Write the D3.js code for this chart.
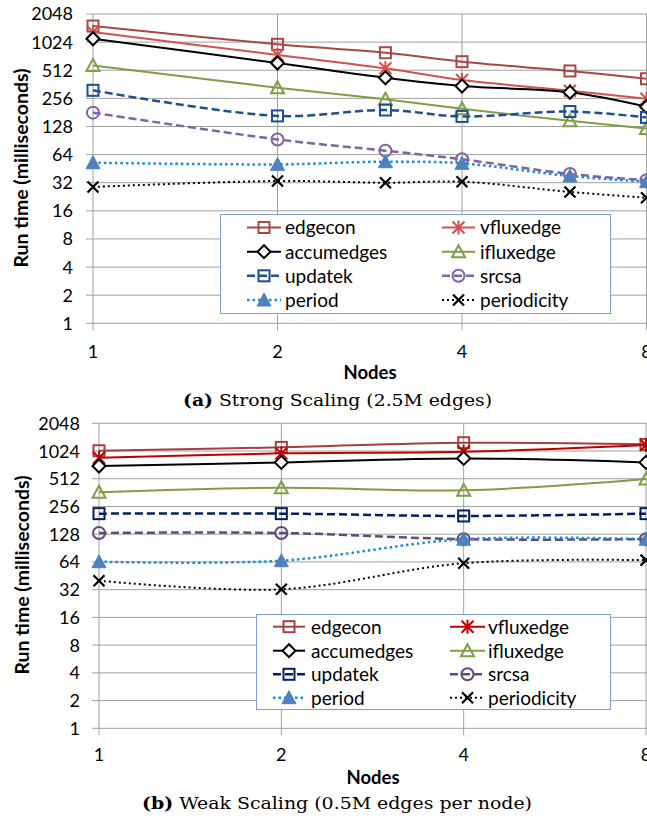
<!DOCTYPE html>
<html><head><meta charset="utf-8">
<script src="https://cdn.jsdelivr.net/npm/d3@7"></script>
<style>body{margin:0;background:#fff}svg{display:block}</style>
</head><body>
<svg id="c" width="647" height="819"></svg>
<script>
// ---------- data ----------
const seriesNames = ["edgecon","vfluxedge","accumedges","ifluxedge","updatek","srcsa","period","periodicity"];
const yTickValues = [1,2,4,8,16,32,64,128,256,512,1024,2048];
const xTickValues = [1,2,4,8];

// (a) Strong scaling
const strongNodes = [1,2,3,4,6,8];
const strongEdgecon     = [1522, 970, 788, 632, 503, 415];
const strongVfluxedge   = [1314, 745, 537, 402, 309, 254];
const strongAccumedges  = [1113, 612, 425, 347, 297, 208];
const strongIfluxedge   = [577, 333, 250, 198, 147, 122];
const strongUpdatek     = [312, 166, 192, 164, 185, 160];
const strongSrcsa       = [180, 93, 70.5, 57, 39.7, 34];
const strongPeriod      = [52.4, 50.3, 53.7, 51.6, 37.7, 32.8];
const strongPeriodicity = [28.8, 33.4, 32, 32.8, 25.5, 22.1];

// (b) Weak scaling
const weakNodes = [1,2,4,8];
const weakEdgecon     = [1031, 1122, 1260, 1210];
const weakVfluxedge   = [866, 966, 1005, 1191];
const weakAccumedges  = [704, 771, 852, 771];
const weakIfluxedge   = [365, 409, 383, 509];
const weakUpdatek     = [214, 214, 202, 214];
const weakSrcsa       = [132, 132, 113, 113];
const weakPeriod      = [64.4, 66, 113, 113];
const weakPeriodicity = [40, 32.3, 62, 67];

// ---------- styles ----------
const stylesA = {
  edgecon:    {color:"#A94744", w:2,   dash:null,    marker:"square"},
  vfluxedge:  {color:"#CF5350", w:2,   dash:null,    marker:"star"},
  accumedges: {color:"#000000", w:2,   dash:null,    marker:"diamond"},
  ifluxedge:  {color:"#7F9E45", w:2,   dash:null,    marker:"triangle"},
  updatek:    {color:"#1F4E8C", w:2.5, dash:"8,4",   marker:"square"},
  srcsa:      {color:"#8064A2", w:2.5, dash:"8,4",   marker:"circle"},
  period:     {color:"#1A8CD8", w:2.5, dash:"2.5,3", marker:"filltri", fill:"#4F81BD"},
  periodicity:{color:"#000000", w:2,   dash:"2,3",   marker:"x"}
};
const stylesB = Object.assign({}, stylesA, {
  edgecon:   {color:"#A5403D", w:2,   dash:null,  marker:"square"},
  vfluxedge: {color:"#C00000", w:2,   dash:null,  marker:"star"},
  updatek:   {color:"#002060", w:2.5, dash:"8,4", marker:"square"},
  srcsa:     {color:"#604A7B", w:2.5, dash:"8,4", marker:"circle"}
});

const panels = [
  {nodes:strongNodes, values:[strongEdgecon,strongVfluxedge,strongAccumedges,strongIfluxedge,strongUpdatek,strongSrcsa,strongPeriod,strongPeriodicity],
   styles:stylesA, x0:93, x1:646.5, yb:323.3, yt:14, tickEnd:73, xLabY:352, nodesPos:[370,372], yTitle:[21,168],
   caption:{bold:"(a)", rest:" Strong Scaling (2.5M edges)", x:183, y:406, len:309},
   legend:{x:220,y:214,w:390,h:99, c1:[247,281,285], c2:[442,475,480], rows:[227.5,251.7,275.8,300]}},
  {nodes:weakNodes, values:[weakEdgecon,weakVfluxedge,weakAccumedges,weakIfluxedge,weakUpdatek,weakSrcsa,weakPeriod,weakPeriodicity],
   styles:stylesB, x0:99, x1:646, yb:728.3, yt:423.3, tickEnd:80, xLabY:755, nodesPos:[373,777], yTitle:[22,575],
   caption:{bold:"(b)", rest:" Weak Scaling (0.5M edges per node)", x:142, y:809, len:390},
   legend:{x:256,y:614,w:354,h:95, c1:[273,305,311], c2:[450,485,488], rows:[626.7,650.7,674.3,697.7]}}
];

const svg = d3.select("#c");
const FONT = "Lato, 'Open Sans', sans-serif";
const GRID = "#A0A0A0";

function drawMarker(g, type, cx, cy, st){
  const s = 6;
  if(type==="square"){
    g.append("rect").attr("x",cx-s+0.5).attr("y",cy-s+0.5).attr("width",2*s-1).attr("height",2*s-1)
      .attr("fill","none").attr("stroke",st.color).attr("stroke-width",2);
  } else if(type==="diamond"){
    g.append("path").attr("d",`M${cx},${cy-6.5}L${cx+6.5},${cy}L${cx},${cy+6.5}L${cx-6.5},${cy}Z`)
      .attr("fill","#fff").attr("stroke",st.color).attr("stroke-width",2);
  } else if(type==="triangle"){
    g.append("path").attr("d",`M${cx},${cy-6.5}L${cx+6.5},${cy+5.5}L${cx-6.5},${cy+5.5}Z`)
      .attr("fill","none").attr("stroke",st.color).attr("stroke-width",2);
  } else if(type==="filltri"){
    g.append("path").attr("d",`M${cx},${cy-7}L${cx+7},${cy+6}L${cx-7},${cy+6}Z`)
      .attr("fill",st.fill).attr("stroke",st.fill).attr("stroke-width",1);
  } else if(type==="circle"){
    g.append("circle").attr("cx",cx).attr("cy",cy).attr("r",6)
      .attr("fill","none").attr("stroke",st.color).attr("stroke-width",2);
  } else if(type==="star"){
    const r=6;
    g.append("path").attr("d",`M${cx-r},${cy-r}L${cx+r},${cy+r}M${cx-r},${cy+r}L${cx+r},${cy-r}M${cx},${cy-r-1}L${cx},${cy+r+1}`)
      .attr("stroke",st.color).attr("stroke-width",2).attr("fill","none");
  } else if(type==="x"){
    const r=5.5;
    g.append("path").attr("d",`M${cx-r},${cy-r}L${cx+r},${cy+r}M${cx-r},${cy+r}L${cx+r},${cy-r}`)
      .attr("stroke",st.color).attr("stroke-width",2.2).attr("fill","none");
  }
}

panels.forEach(p=>{
  const x = d3.scaleLog().base(2).domain([1,8]).range([p.x0,p.x1]);
  const y = d3.scaleLog().base(2).domain([1,2048]).range([p.yb,p.yt]);
  const g = svg.append("g");

  // horizontal gridlines + ticks
  g.selectAll(null).data(yTickValues).join("line")
    .attr("x1",p.x0-7).attr("x2",647).attr("y1",d=>y(d)).attr("y2",d=>y(d))
    .attr("stroke",GRID).attr("stroke-width",1);
  // vertical gridlines + ticks
  g.selectAll(null).data(xTickValues).join("line")
    .attr("x1",d=>x(d)).attr("x2",d=>x(d)).attr("y1",p.yt).attr("y2",p.yb+7)
    .attr("stroke",GRID).attr("stroke-width",1);

  // y tick labels
  g.selectAll(null).data(yTickValues).join("text")
    .attr("x",p.tickEnd).attr("y",d=>y(d)).attr("dy","0.36em")
    .attr("text-anchor","end").attr("font-family",FONT).attr("font-size",18).attr("fill","#000")
    .text(d=>d);
  // x tick labels
  g.selectAll(null).data(xTickValues).join("text")
    .attr("x",d=>x(d)).attr("y",p.xLabY).attr("dy","0.36em")
    .attr("text-anchor","middle").attr("font-family",FONT).attr("font-size",18).attr("fill","#000")
    .text(d=>d);

  // axis titles
  g.append("text").attr("x",p.nodesPos[0]).attr("y",p.nodesPos[1]).attr("dy","0.36em")
    .attr("text-anchor","middle").attr("font-family",FONT).attr("font-weight","bold").attr("font-size",18.5)
    .text("Nodes");
  g.append("text").attr("transform",`translate(${p.yTitle[0]},${p.yTitle[1]}) rotate(-90)`).attr("dy","0.36em")
    .attr("text-anchor","middle").attr("font-family",FONT).attr("font-weight","bold").attr("font-size",19.5)
    .text("Run time (milliseconds)");

  // series lines
  const line = d3.line().x(d=>x(d[0])).y(d=>y(d[1])).curve(d3.curveCatmullRom.alpha(0.5));
  seriesNames.forEach((name,i)=>{
    const st = p.styles[name];
    const pts = p.nodes.map((n,j)=>[n,p.values[i][j]]);
    g.append("path").attr("d",line(pts)).attr("fill","none").attr("stroke",st.color)
      .attr("stroke-width",st.w).attr("stroke-dasharray",st.dash);
    pts.forEach(pt=>drawMarker(g, st.marker, x(pt[0]), y(pt[1]), st));
  });

  // legend
  const L = p.legend;
  g.append("rect").attr("x",L.x+0.5).attr("y",L.y+0.5).attr("width",L.w).attr("height",L.h)
    .attr("fill","#fff").attr("stroke","#7F9FD0").attr("stroke-width",1);
  seriesNames.forEach((name,i)=>{
    const col = i%2===0 ? L.c1 : L.c2;
    const ry = L.rows[Math.floor(i/2)];
    const st = p.styles[name];
    g.append("line").attr("x1",col[0]).attr("x2",col[1]).attr("y1",ry).attr("y2",ry)
      .attr("stroke",st.color).attr("stroke-width",st.w).attr("stroke-dasharray",st.dash);
    drawMarker(g, st.marker, (col[0]+col[1])/2, ry, st);
    g.append("text").attr("x",col[2]).attr("y",ry).attr("dy","0.36em")
      .attr("font-family",FONT).attr("font-size",19).attr("fill","#000").text(name);
  });

  // caption
  const c = g.append("text").attr("x",p.caption.x).attr("y",p.caption.y)
    .attr("font-family","'DejaVu Serif', serif").attr("font-size",16).attr("fill","#000")
    .attr("textLength",p.caption.len).attr("lengthAdjust","spacingAndGlyphs");
  c.append("tspan").attr("font-weight","bold").text(p.caption.bold);
  c.append("tspan").text(p.caption.rest);
});
</script>
</body></html>
